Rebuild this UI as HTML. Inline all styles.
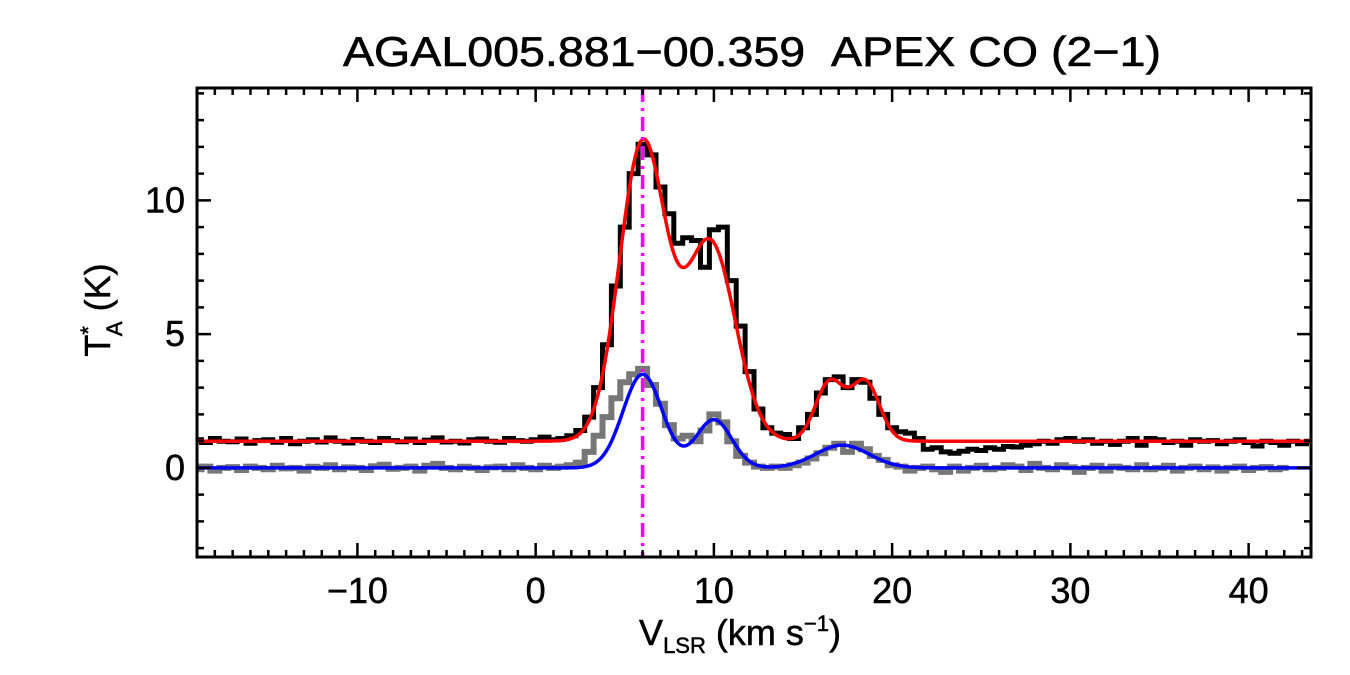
<!DOCTYPE html>
<html><head><meta charset="utf-8"><style>
html,body{margin:0;padding:0;background:#fff;}
svg{display:block;font-family:"Liberation Sans",Arial,sans-serif;}
</style></head><body>
<svg id="chart" width="1350" height="675" viewBox="0 0 1350 675" xmlns="http://www.w3.org/2000/svg">
<text x="752" y="66" font-size="42" text-anchor="middle" stroke="#000" stroke-width="0.6" textLength="818" lengthAdjust="spacingAndGlyphs">AGAL005.881−00.359&#160;&#160;APEX CO (2−1)</text>
<g id="plot"></g>
<text transform="translate(110,310) rotate(-90)" font-size="36" text-anchor="middle" stroke="#000" stroke-width="0.5">T<tspan font-size="22" dy="-14">*</tspan><tspan font-size="22" dx="-10" dy="26">A</tspan><tspan dy="-12"> (K)</tspan></text>
<text x="740" y="645" font-size="36" text-anchor="middle" stroke="#000" stroke-width="0.5">V<tspan font-size="22" dy="8">LSR</tspan><tspan dy="-8"> (km s</tspan><tspan font-size="22" dy="-14">−1</tspan><tspan dy="14">)</tspan></text>
</svg>
<script>
const vStart=-19, vStep=0.5;
const blackSpec=[1.05,0.95,1.1,1.0,0.98,1.08,0.92,1.02,1.05,0.96,1.1,0.9,1.0,1.05,0.97,1.12,1.0,0.93,1.06,1.0,0.95,1.1,1.02,0.98,1.08,0.95,1.04,1.12,0.97,1.0,0.93,1.05,1.08,1.0,0.96,1.1,1.02,
1.0,1.05,1.15,1.05,1.1,1.2,1.4,1.9,3.0,4.6,6.8,9.0,11.0,12.1,11.7,10.5,9.5,8.4,8.6,8.5,7.5,8.9,9.0,7.0,5.3,3.6,2.2,1.5,1.3,1.25,1.1,1.5,2.0,2.8,3.3,3.4,3.0,3.3,3.2,2.6,2.0,1.5,1.35,1.3,1.1,0.7,0.75,0.6,0.55,0.62,0.7,0.65,0.75,0.7,0.8,0.78,0.85,0.9,1.0,0.92,1.05,1.1,1.0,1.05,0.92,1.0,0.88,1.0,1.1,0.85,1.1,1.05,0.95,1.0,0.85,1.05,1.0,1.02,0.9,1.0,1.05,0.95,0.82,1.0,0.95,0.85,1.0,0.9,1.0];
const graySpec=[-0.05,0.05,-0.1,0.0,0.03,-0.08,0.05,0.0,-0.05,0.08,-0.02,0.0,-0.1,0.04,0.0,0.1,-0.05,0.02,0.0,-0.08,0.06,0.12,-0.03,0.0,0.05,-0.1,0.08,0.15,0.0,-0.05,0.04,0.0,-0.08,0.02,0.05,-0.05,0.1,
0.0,-0.05,0.08,0.0,0.05,0.1,0.2,0.6,1.2,1.9,2.6,3.2,3.5,3.7,3.1,2.4,1.6,1.1,1.2,1.0,1.4,2.0,1.7,1.0,0.45,0.2,0.05,0.0,0.05,0.0,0.1,0.2,0.35,0.55,0.75,0.9,0.6,0.9,0.7,0.45,0.3,0.1,0.05,-0.1,0.0,0.05,-0.05,-0.15,0.05,-0.1,0.0,0.08,-0.05,0.0,0.1,0.05,-0.08,0.15,0.0,-0.05,0.1,0.02,-0.15,0.0,0.08,-0.1,0.05,0.0,-0.05,0.1,-0.05,0.0,0.08,-0.1,0.0,0.05,-0.05,0.02,-0.1,0.0,0.05,-0.08,0.0,0.03,-0.05,0.0];
const redOffset=1.0;
const redAmps=[11.1,7.4,2.2,2.2], redCenters=[6.0,9.8,16.5,18.5], redSigmas=[1.3,1.4,0.8,0.8];
const blueAmps=[3.5,1.8,0.85], blueCenters=[6.0,10.0,17.2], blueSigmas=[1.1,1.0,1.5];
const markerVel=6.0;
const xTicks=[-10,0,10,20,30,40], yTicks=[0,5,10];

const NS="http://www.w3.org/2000/svg";
const L=197,R=1311,T=88,B=557,xMin=-19,xMax=43.5,yMin=-3.33,yMax=14.2;
const X=v=>L+(v-xMin)/(xMax-xMin)*(R-L);
const Y=t=>B-(t-yMin)/(yMax-yMin)*(B-T);
const g=document.getElementById('plot');
function mk(tag,attrs){const e=document.createElementNS(NS,tag);for(const k in attrs)e.setAttribute(k,attrs[k]);g.appendChild(e);return e;}
const clip=document.createElementNS(NS,'clipPath');clip.setAttribute('id','cp');
const cr=document.createElementNS(NS,'rect');cr.setAttribute('x',L);cr.setAttribute('y',T);cr.setAttribute('width',R-L);cr.setAttribute('height',B-T);clip.appendChild(cr);g.appendChild(clip);
function stepPath(arr){let d='';arr.forEach((t,i)=>{const v=vStart+i*vStep;const x0=X(v-vStep/2),x1=X(v+vStep/2),y=Y(t);d+=(i?'L':'M')+x0.toFixed(1)+','+y.toFixed(1)+'L'+x1.toFixed(1)+','+y.toFixed(1);});return d;}
function model(off,A,C,S){let d='';for(let px=L;px<=R;px+=2){const v=xMin+(px-L)/(R-L)*(xMax-xMin);let t=off;for(let k=0;k<A.length;k++)t+=A[k]*Math.exp(-((v-C[k])**2)/(2*S[k]*S[k]));d+=(px===L?'M':'L')+px+','+Y(t).toFixed(1);}return d;}
let e;
e=mk('path',{d:stepPath(graySpec),fill:'none',stroke:'#777',"stroke-width":6,"clip-path":"url(#cp)"});


e=mk('path',{d:stepPath(blackSpec),fill:'none',stroke:'#000',"stroke-width":5,"clip-path":"url(#cp)"});


e=mk('path',{d:model(0,blueAmps,blueCenters,blueSigmas),fill:'none',stroke:'#0000ff',"stroke-width":3.5});


e=mk('path',{d:model(redOffset,redAmps,redCenters,redSigmas),fill:'none',stroke:'#ff0000',"stroke-width":3.5});


e=mk('line',{x1:X(markerVel),x2:X(markerVel),y1:T,y2:B,stroke:'#ff00ff',"stroke-width":3.5,"stroke-dasharray":"14,6,3,6"});


let td='';
for(let v=-19;v<=43;v++){const len=(v%10===0)?14:7;const x=X(v);td+=`M${x},${B}v${-len}M${x},${T}v${len}`;}
for(let t=-3;t<=14;t++){const len=(t%5===0)?14:7;const y=Y(t);td+=`M${L},${y}h${len}M${R},${y}h${-len}`;}
e=mk('path',{d:td,stroke:'#000',"stroke-width":2.5,fill:'none'});


e=mk('rect',{x:L,y:T,width:R-L,height:B-T,fill:'none',stroke:'#000',"stroke-width":3});


xTicks.forEach(v=>{const t=mk('text',{x:X(v),y:B+46,"font-size":36,"text-anchor":"middle",stroke:"#000","stroke-width":0.5});t.textContent=String(v).replace('-','−');

});
yTicks.forEach(v=>{const t=mk('text',{x:L-12,y:Y(v)+12,"font-size":36,"text-anchor":"end",stroke:"#000","stroke-width":0.5});t.textContent=v;

});
</script>
</body></html>
